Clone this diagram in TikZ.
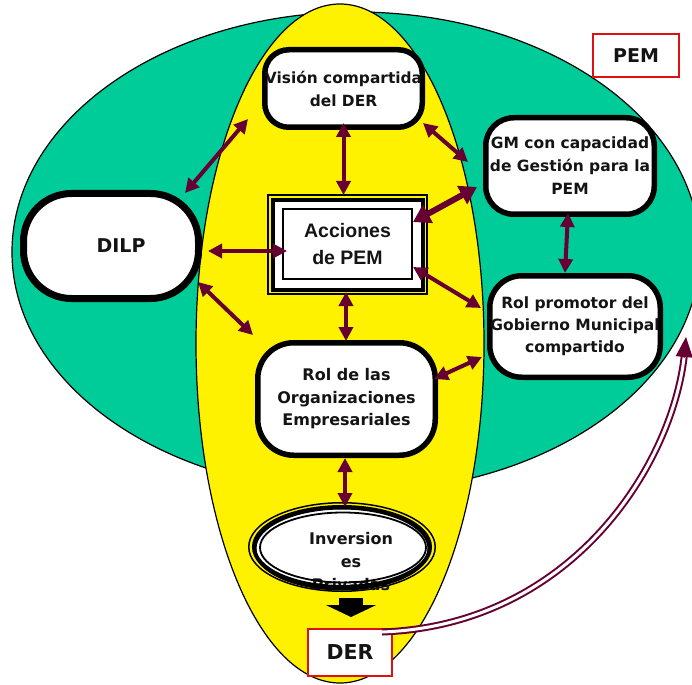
\documentclass[tikz,border=0pt]{standalone}
\usepackage{fontspec}
\setmainfont{DejaVu Sans}
\newfontfamily\arialfont{Liberation Sans}
\usetikzlibrary{arrows.meta,shapes.geometric,calc}

\definecolor{pemgreen}{HTML}{00CC99}
\definecolor{derplum}{HTML}{660033}
\definecolor{boxred}{HTML}{DD1111}

\tikzset{
  softbox/.style={draw=black, fill=white, line width=5.5pt, rounded corners=#1,
    align=center, inner sep=0pt, text=black!92,
    font=\bfseries\fontsize{16}{22.5}\selectfont},
  redbox/.style={draw=boxred, fill=white, line width=2pt, inner sep=0pt,
    text=black!92, font=\bfseries\fontsize{20.5}{24}\selectfont},
  link/.style={draw=derplum, line width=4pt,
    {Triangle[length=14pt,width=14pt]}-{Triangle[length=14pt,width=14pt]}},
  biglink/.style={draw=derplum, line width=6pt,
    {Triangle[length=17pt,width=20pt]}-{Triangle[length=17pt,width=20pt]}},
  regionline/.style={draw=black, line width=1.2pt},
}

\begin{document}
\begin{tikzpicture}[x=1pt,y=-1pt]
\useasboundingbox (0,0) rectangle (692,684);
\fill[white] (0,0) rectangle (692,684);
\clip (0,0) rectangle (692,684);

% PEM region and DER region
\filldraw[regionline, fill=pemgreen] (356,252) ellipse [x radius=344, y radius=240];
\filldraw[regionline, fill=yellow] (340,343.5) ellipse [x radius=144, y radius=339.5];

% triple frame of the central box
\coordinate (accmid) at (347.5,244.5);
\draw[line width=1.5pt] ($(accmid)+(-79.5,-49.5)$) rectangle ($(accmid)+(79.5,49.5)$);
\filldraw[fill=white, line width=4pt] ($(accmid)+(-74.5,-44.5)$) rectangle ($(accmid)+(75.5,45.5)$);
\node[draw=black, fill=white, line width=2pt, minimum width=129, minimum height=70,
  inner sep=0pt, align=center, text=black!92,
  font=\arialfont\bfseries\fontsize{19.5}{27}\selectfont] (acc) at (347.5,244) {Acciones\\de PEM};

% rounded boxes
\node[softbox=24, minimum width=157.5, minimum height=77.5,
  font=\bfseries\fontsize{15.4}{23}\selectfont] (vis) at (343.5,88.5) {Visión compartida\\del DER};
\node[softbox=48, line width=7pt, minimum width=175, minimum height=105,
  font=\bfseries\fontsize{19}{22}\selectfont] (dilp) at (111,246) {\raisebox{-5pt}{\hspace*{20pt}DILP}};
\node[softbox=28, minimum width=168.5, minimum height=96.5,
  font=\bfseries\fontsize{15.5}{23}\selectfont] (gm) at (570,166) {GM con capacidad\\de Gestión para la\\PEM};
\node[softbox=32, minimum width=170.5, minimum height=101.5,
  font=\bfseries\fontsize{15.5}{22}\selectfont] (rp) at (575,326.5) {Rol promotor del\\Gobierno Municipal\\compartido};
\node[softbox=36, minimum width=177.5, minimum height=112.5] (org) at (346.5,399) {Rol de las\\Organizaciones\\Empresariales};

% ringed ellipse
\node[ellipse, draw=black, fill=yellow, line width=1.5pt, minimum width=186.5,
  minimum height=88.5, inner sep=0pt] (inv) at (342,547) {};
\fill[white] (inv.center) ellipse [x radius=88, y radius=40];
\node[align=center, text=black!92, font=\bfseries\fontsize{16}{23}\selectfont] (invtext) at (351,562) {Inversion\\es\\Privadas};
\draw[line width=4pt] (inv.center) ellipse [x radius=88, y radius=40];
\draw[line width=3pt] ($(inv.center)+(0,1.5)$) ellipse [x radius=87, y radius=40.5];
\draw[line width=1.8pt] ($(inv.center)+(1,0.5)$) ellipse [x radius=83, y radius=35];

% labelled red boxes
\node[redbox, minimum width=84, minimum height=47] (der) at (350,652.5) {DER};
\node[redbox, minimum width=86, minimum height=43,
  font=\bfseries\fontsize{19}{22}\selectfont] (pem) at (636,55.5) {PEM};

% two-way links
\draw[link] ($(vis.south west)+(-14,-11)$) -- ($(dilp.north east)+(-17,3)$);
\draw[link] ($(vis.south)+(0,-7)$) -- ($(acc.north)+(-4,-13)$);
\draw[link] ($(vis.south east)+(-2,-7)$) -- ($(gm.west)+(-15,-4)$);
\draw[biglink] ($(acc.north east)+(0,14)$) -- ($(gm.west)+(-6,21)$);
\draw[link] ($(dilp.east)+(6,5)$) -- ($(acc.west)+(5,7)$);
\draw[link] ($(dilp.south east)+(-4,-20)$) -- ($(org.north west)+(-2,-5)$);
\draw[link] ($(acc.south)+(-1.5,12)$) -- ($(org.north)+(-0.5,1)$);
\draw[link] ($(acc.south east)+(0,-13)$) -- ($(rp.west)+(-6,-18.5)$);
\draw[link] ($(org.east)+(-4,-20)$) -- ($(rp.west)+(-5,30.5)$);
\draw[link] ($(gm.south)+(-2,-4)$) -- ($(rp.north)+(-10,0)$);
\draw[link] ($(org.south)+(-1.5,0)$) -- ($(inv.north)+(3,5)$);

% block arrow down to DER
\draw[black, line width=24pt, -{Triangle[length=12pt,width=50pt]}]
  ($(inv.south)+(9,6)$) -- ($(der.north)+(1,-11)$);

% double-lined feedback arrow from DER back to the municipal role
\coordinate (fbstart) at ($(der.north east)+(-11,4)$);
\coordinate (fbend) at ($(rp.east)+(23,10.5)$);
\coordinate (fbctrl) at (675,460);
\draw[derplum, line width=2pt, double=white, double distance=3pt, shorten >=14pt]
  (fbstart) .. controls (575,625) and (fbctrl) .. (fbend);
\draw[derplum, line width=1pt, -{Triangle[length=20pt,width=17pt]}]
  ($(fbend)!21pt!(fbctrl)$) -- (fbend);
\end{tikzpicture}
\end{document}
